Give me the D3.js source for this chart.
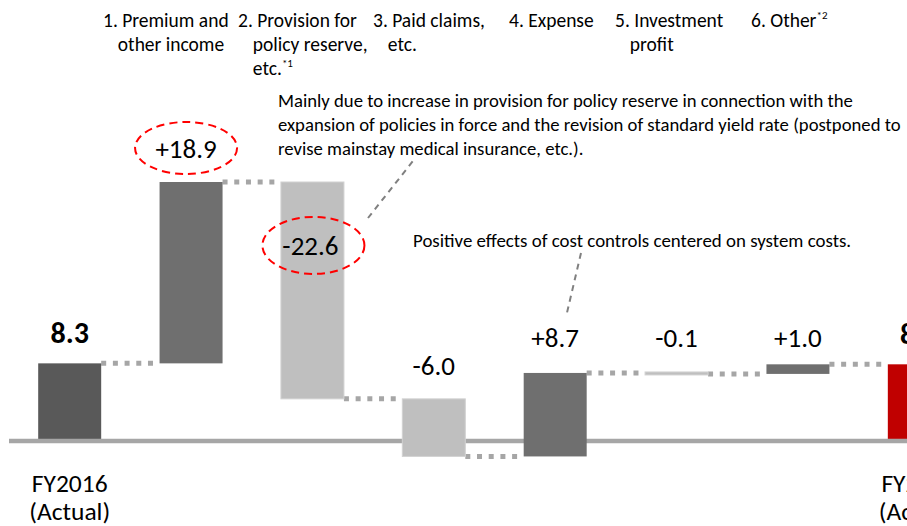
<!DOCTYPE html>
<html>
<head>
<meta charset="utf-8">
<script src="https://cdn.jsdelivr.net/npm/d3@7"></script>
<style>
body { margin: 0; background: #fff; }
svg { display: block; font-family: Carlito, Lato, sans-serif; }
</style>
</head>
<body>
<div id="chart"></div>
<script>
// data
const categories = ["FY2016", "1", "2", "3", "4", "5", "6", "FY2017"];
const values = [8.3, 18.9, -22.6, -6.0, 8.7, -0.1, 1.0, 8.2];
const valueLabels = ["8.3", "+18.9", "-22.6", "-6.0", "+8.7", "-0.1", "+1.0", "8.2"];
const isTotal = [true, false, false, false, false, false, false, true];
const headings = [
  ["1. Premium and", "other income"],
  ["2. Provision for", "policy reserve,", "etc.|*1"],
  ["3. Paid claims,", "etc."],
  ["4. Expense"],
  ["5. Investment", "profit"],
  ["6. Other|*2"]
];
const totalSub = ["(Actual)", "(Actual)"];
const note1 = [
  "Mainly due to increase in provision for policy reserve in connection with the",
  "expansion of policies in force and the revision of standard yield rate (postponed to",
  "revise mainstay medical insurance, etc.)."
];
const note2 = "Positive effects of cost controls centered on system costs.";

const width = 907, height = 526;

// running totals
let run = 0;
const steps = values.map((v, i) => {
  let from, to;
  if (isTotal[i]) { from = 0; to = v; run = v; }
  else { from = run; to = run + v; run = to; }
  return {cat: categories[i], v, from, to, end: run, i};
});

const svg = d3.select("#chart").append("svg")
  .attr("width", width)
  .attr("height", height);

const x = d3.scaleBand()
  .domain(categories)
  .range([9, 980])
  .paddingInner(0.481)
  .paddingOuter(0.2405);

const y = d3.scaleLinear()
  .domain([0, 27.2])
  .range([443, 182]);

const grey = "#a6a6a6";
const fillOf = d => d.i === 0 ? "#595959" : d.i === 7 ? "#c00000" : d.v >= 0 ? "#6f6f6f" : "#bfbfbf";

// connectors
svg.append("g")
  .selectAll("line")
  .data(steps.slice(0, -1))
  .join("line")
  .attr("x1", d => x(d.cat) + x.bandwidth())
  .attr("x2", d => x(categories[d.i + 1]))
  .attr("y1", d => y(d.end))
  .attr("y2", d => y(d.end))
  .attr("stroke", grey)
  .attr("stroke-width", 5)
  .attr("stroke-dasharray", "5,6.7");

// total bars
svg.append("g")
  .selectAll("rect")
  .data(steps.filter(d => isTotal[d.i]))
  .join("rect")
  .attr("x", d => x(d.cat))
  .attr("y", d => y(d.to))
  .attr("width", x.bandwidth())
  .attr("height", d => y(0) - y(d.to))
  .attr("fill", fillOf);

// baseline
svg.append("line")
  .attr("x1", 9).attr("x2", width)
  .attr("y1", y(0) - 2).attr("y2", y(0) - 2)
  .attr("stroke", grey)
  .attr("stroke-width", 4.5);

// change bars
svg.append("g")
  .selectAll("rect")
  .data(steps.filter(d => !isTotal[d.i]))
  .join("rect")
  .attr("x", d => x(d.cat))
  .attr("y", d => Math.min(y(d.from), y(d.to)) - (Math.abs(y(d.from) - y(d.to)) < 3 ? 1 : 0))
  .attr("width", x.bandwidth())
  .attr("height", d => Math.max(3, Math.abs(y(d.from) - y(d.to))))
  .attr("fill", fillOf)
  .attr("stroke", d => d.v < 0 ? "#d2d2d2" : "none")
  .attr("stroke-width", 1);

// value labels
const cx = d => x(d.cat) + x.bandwidth() / 2;
const smallRowY = y(d3.max(steps.slice(4, 7), d => Math.max(d.from, d.to))) - 17;
const labelY = d => {
  if (d.i === 2) return (y(d.from) + y(d.to)) / 2 - 35;
  if (d.i >= 4 && d.i <= 6) return smallRowY;
  if (isTotal[d.i]) return y(d.to) - 20;
  return y(Math.max(d.from, d.to)) - 24;
};

svg.append("g")
  .selectAll("text")
  .data(steps)
  .join("text")
  .attr("x", d => cx(d) + (d.i === 1 ? -5 : d.i === 2 ? -2 : 0))
  .attr("y", labelY)
  .attr("text-anchor", "middle")
  .attr("font-size", d => isTotal[d.i] ? 30 : 27)
  .attr("font-weight", d => isTotal[d.i] ? "bold" : "normal")
  .attr("fill", "#000")
  .text(d => valueLabels[d.i]);

// red dashed ellipses around the two big items
svg.append("g")
  .selectAll("ellipse")
  .data([steps[1], steps[2]])
  .join("ellipse")
  .attr("cx", d => cx(d) + (d.i === 1 ? -5 : 1))
  .attr("cy", d => labelY(d) - 10)
  .attr("rx", 51)
  .attr("ry", d => d.i === 1 ? 26 : 28.5)
  .attr("fill", "none")
  .attr("stroke", "#ff0000")
  .attr("stroke-width", 2)
  .attr("stroke-dasharray", "8,5");

// category headings, hanging indent after "N. "
const headX = [103, 238, 373, 509, 615, 751];
headings.forEach((lines, k) => {
  const t = svg.append("text")
    .attr("x", headX[k])
    .attr("y", 27)
    .attr("font-size", 19.5)
    .attr("fill", "#000");
  const first = t.append("tspan").text(lines[0].slice(0, 3));
  const indent = first.node().getComputedTextLength();
  first.remove();
  lines.forEach((ln, j) => {
    const parts = ln.split("|");
    t.append("tspan")
      .attr("x", headX[k] + (j > 0 ? indent : 0))
      .attr("dy", j > 0 ? 24 : 0)
      .text(parts[0]);
    if (parts[1]) {
      t.append("tspan")
        .attr("font-size", 11)
        .attr("dy", -8)
        .text(parts[1]);
      t.append("tspan").attr("dy", 8).text("");
    }
  });
});

// bottom labels for the totals
steps.filter(d => isTotal[d.i]).forEach((d, k) => {
  const t = svg.append("text")
    .attr("x", cx(d))
    .attr("y", 492)
    .attr("text-anchor", "middle")
    .attr("font-size", 25.5)
    .attr("fill", "#000");
  t.append("tspan").attr("x", cx(d)).text(d.cat);
  t.append("tspan").attr("x", cx(d)).attr("dy", 28).text(totalSub[k]);
});

// notes
svg.append("text")
  .attr("font-size", 18.7)
  .attr("fill", "#000")
  .selectAll("tspan")
  .data(note1)
  .join("tspan")
  .attr("x", 278)
  .attr("y", (d, i) => 107 + i * 24)
  .text(d => d);

svg.append("text")
  .attr("x", 413)
  .attr("y", 247)
  .attr("font-size", 18.9)
  .attr("fill", "#000")
  .text(note2);

// leader lines
const leaders = [[[368, 218], [413, 161]], [[581, 253], [566, 317]]];
svg.append("g")
  .selectAll("line")
  .data(leaders)
  .join("line")
  .attr("x1", d => d[0][0]).attr("y1", d => d[0][1])
  .attr("x2", d => d[1][0]).attr("y2", d => d[1][1])
  .attr("stroke", "#808080")
  .attr("stroke-width", 2)
  .attr("stroke-dasharray", "6,5");
</script>
</body>
</html>
